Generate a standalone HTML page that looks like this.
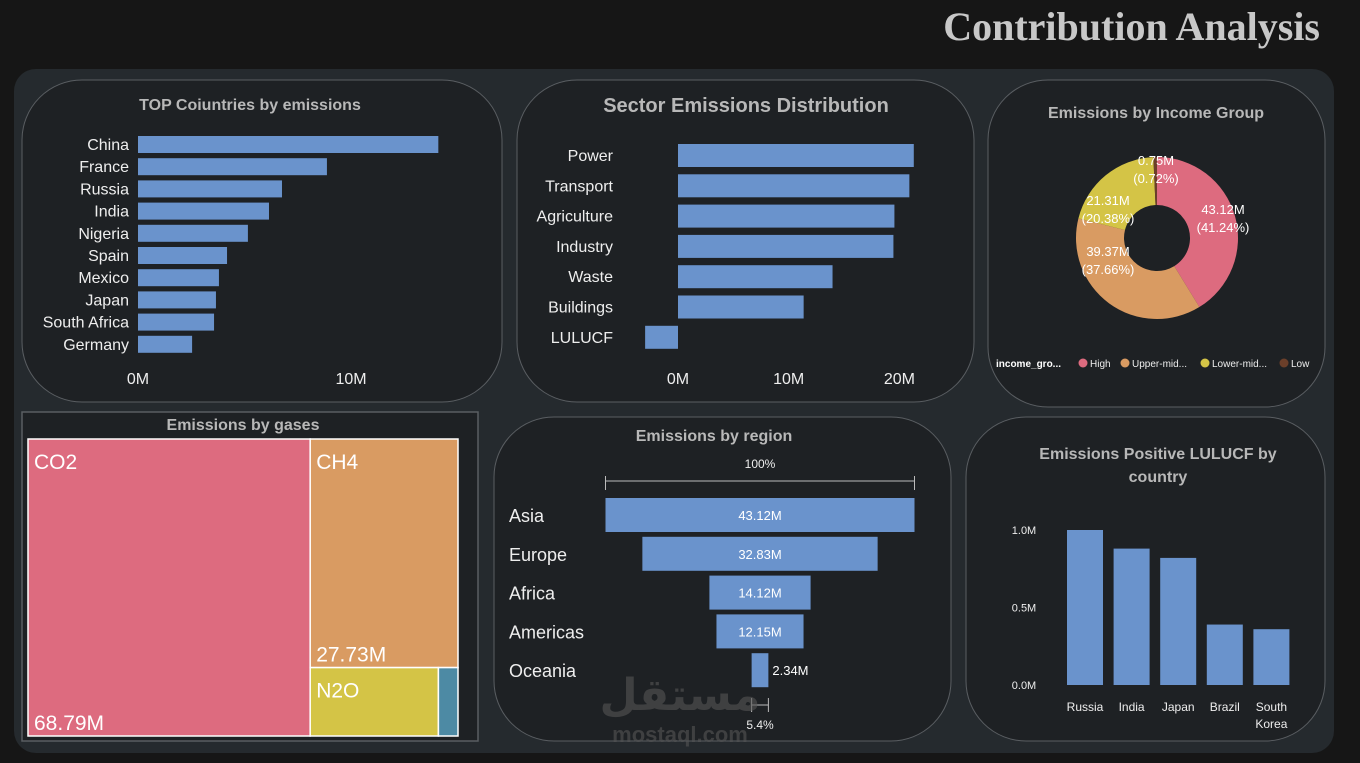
<!DOCTYPE html>
<html><head><meta charset="utf-8"><style>
html,body{margin:0;padding:0;background:#161616;width:1360px;height:763px;overflow:hidden}
svg{display:block}
text{font-family:"Liberation Sans","DejaVu Sans",sans-serif}
</style></head><body>
<svg id="s" width="1360" height="763" xmlns="http://www.w3.org/2000/svg">
<rect x="0" y="0" width="1360" height="763" fill="#161616"/>
<text x="1320" y="40" text-anchor="end" font-weight="bold" font-size="40" fill="#c8c8c8" style="font-family:'Liberation Serif',serif">Contribution Analysis</text>
<rect x="14" y="69" width="1320" height="684" rx="22" fill="#252a2e"/>
<rect x="22" y="80" width="480" height="322" rx="60" fill="#1e2124" stroke="#5a5e62"/>
<rect x="517" y="80" width="457" height="322" rx="60" fill="#1e2124" stroke="#5a5e62"/>
<rect x="988" y="80" width="337" height="327" rx="60" fill="#1e2124" stroke="#5a5e62"/>
<rect x="22" y="412" width="456" height="329" fill="#1e2124" stroke="#5a5e62" stroke-width="1.5"/>
<rect x="494" y="417" width="457" height="324" rx="60" fill="#1e2124" stroke="#5a5e62"/>
<rect x="966" y="417" width="359" height="324" rx="60" fill="#1e2124" stroke="#5a5e62"/>
<text x="250" y="110" text-anchor="middle" font-size="16" fill="#b8b8b8" font-weight="bold">TOP Coiuntries by emissions</text>
<text x="746" y="112" text-anchor="middle" font-size="20" fill="#b8b8b8" font-weight="bold">Sector Emissions Distribution</text>
<text x="1156" y="118" text-anchor="middle" font-size="16" fill="#b8b8b8" font-weight="bold">Emissions by Income Group</text>
<text x="243" y="430" text-anchor="middle" font-size="16" fill="#b8b8b8" font-weight="bold">Emissions by gases</text>
<text x="714" y="441" text-anchor="middle" font-size="16" fill="#b8b8b8" font-weight="bold">Emissions by region</text>
<text x="1158" y="459" text-anchor="middle" font-size="16" fill="#b8b8b8" font-weight="bold">Emissions Positive LULUCF by</text>
<text x="1158" y="482" text-anchor="middle" font-size="16" fill="#b8b8b8" font-weight="bold">country</text>
<g id="g1"></g><g id="g2"></g><g id="g3"></g><g id="g4"></g><g id="g5"></g><g id="g6"></g>
<text x="680" y="710" text-anchor="middle" font-size="44" fill="#555" opacity="0.6" font-weight="bold">مستقل</text>
<text x="680" y="742" text-anchor="middle" font-size="22" fill="#555" opacity="0.6" font-weight="bold">mostaql.com</text>
</svg>
<script>
const countries=["China","France","Russia","India","Nigeria","Spain","Mexico","Japan","South Africa","Germany"];
const countryValues=[14.1,8.87,6.76,6.15,5.16,4.18,3.8,3.66,3.57,2.54];
const countryTicks=[0,10];
const sectors=["Power","Transport","Agriculture","Industry","Waste","Buildings","LULUCF"];
const sectorValues=[21.3,20.9,19.55,19.46,13.96,11.35,-2.97];
const sectorTicks=[0,10,20];
const incomeGroups=["High","Upper-mid...","Lower-mid...","Low"];
const incomeValues=[43.12,39.37,21.31,0.75];
const incomeColors=["#dd6b7f","#d99b62","#d4c446","#6b3f2a"];
const gases=["CO2","CH4","N2O","Other"];
const gasValues=[68.79,27.73,7.2,1.1];
const regions=["Asia","Europe","Africa","Americas","Oceania"];
const regionValues=[43.12,32.83,14.12,12.15,2.34];
const lulucfCountries=["Russia","India","Japan","Brazil","South Korea"];
const lulucfValues=[1.0,0.88,0.82,0.39,0.36];
const lulucfTicks=[0,0.5,1.0];
const NS="http://www.w3.org/2000/svg";
function mk(p,tag,a,txt){const e=document.createElementNS(NS,tag);for(const k in a)e.setAttribute(k,a[k]);if(txt!==undefined)e.textContent=txt;p.appendChild(e);return e;}
const BLUE="#6a93cc";
{const g=document.getElementById('g1');const x=v=>138+v*21.3;const y=i=>136+i*22.2;
countries.forEach((c,i)=>{
const r=mk(g,'rect',{x:x(0),y:y(i),width:x(countryValues[i])-x(0),height:17,fill:BLUE});


const t=mk(g,'text',{x:129,y:y(i)+14,'text-anchor':'end','font-size':16,fill:'#eee'},c);

});
countryTicks.forEach(v=>{const t=mk(g,'text',{x:x(v),y:384,'text-anchor':'middle','font-size':16,fill:'#eee'},v+'M');

});}
{const g=document.getElementById('g2');const x=v=>678+v*11.07;const y=i=>144+i*30.3;
sectors.forEach((c,i)=>{const v=sectorValues[i];
const r=mk(g,'rect',{x:Math.min(x(0),x(v)),y:y(i),width:Math.abs(x(v)-x(0)),height:23,fill:BLUE});


const t=mk(g,'text',{x:613,y:y(i)+17,'text-anchor':'end','font-size':16,fill:'#eee'},c);

});
sectorTicks.forEach(v=>{const t=mk(g,'text',{x:x(v),y:384,'text-anchor':'middle','font-size':16,fill:'#eee'},v+'M');

});}
{const g=document.getElementById('g3');const cx=1157,cy=238,R=81,r0=33;const tot=incomeValues.reduce((a,b)=>a+b,0);
let a=0;const pos=[[1223,214],[1108,256],[1108,205],[1156,165]];
incomeValues.forEach((v,i)=>{const a1=a+v/tot*2*Math.PI;
const P=(ang,rr)=>[cx+rr*Math.sin(ang),cy-rr*Math.cos(ang)];const L=a1-a>Math.PI?1:0;
const[p1,p2,p3,p4]=[P(a,R),P(a1,R),P(a1,r0),P(a,r0)];
const s=mk(g,'path',{d:`M${p1}A${R},${R} 0 ${L} 1 ${p2}L${p3}A${r0},${r0} 0 ${L} 0 ${p4}Z`,fill:incomeColors[i]});


const pct=(v/tot*100).toFixed(2);
const t=mk(g,'text',{x:pos[i][0],y:pos[i][1],'text-anchor':'middle','font-size':13,fill:'#fff'},v.toFixed(2)+'M');


const t2=mk(g,'text',{x:pos[i][0],y:pos[i][1]+18,'text-anchor':'middle','font-size':13,fill:'#fff'},'('+pct+'%)');


a=a1;});
const lt=mk(g,'text',{x:996,y:367,'font-size':10,'font-weight':'bold',fill:'#fff'},'income_gro...');


const lx=[1083,1125,1205,1284];
incomeGroups.forEach((n,i)=>{const c=mk(g,'circle',{cx:lx[i],cy:363,r:4.5,fill:incomeColors[i]});


const t=mk(g,'text',{x:lx[i]+7,y:367,'font-size':10,fill:'#eee'},n);

});}
{const g=document.getElementById('g4');const X0=28,Y0=439,W=430,H=297;const tot=gasValues.reduce((a,b)=>a+b,0);
const w0=W*gasValues[0]/tot;const restW=W-w0;const rest=tot-gasValues[0];
const h1=H*gasValues[1]/rest;const rem=gasValues[2]+gasValues[3];const w2=restW*gasValues[2]/rem;
const rects=[[X0,Y0,w0,H,'#dd6b7f'],[X0+w0,Y0,restW,h1,'#d99b62'],[X0+w0,Y0+h1,w2,H-h1,'#d4c446'],[X0+w0+w2,Y0+h1,restW-w2,H-h1,'#4d8aa4']];
rects.forEach((r,i)=>{const e=mk(g,'rect',{x:r[0],y:r[1],width:r[2],height:r[3],fill:r[4],stroke:'#fff','stroke-width':1.5});

});
[[0,true],[1,true],[2,false]].forEach(([i,val])=>{const r=rects[i];
const t=mk(g,'text',{x:r[0]+6,y:r[1]+30,'font-size':21,fill:'#fff'},gases[i]);


if(val){const v=mk(g,'text',{x:r[0]+6,y:r[1]+r[3]-6,'font-size':21,fill:'#fff'},gasValues[i].toFixed(2)+'M');

}});}
{const g=document.getElementById('g5');const cx=760,full=309,max=regionValues[0];const y=i=>498+i*38.8;
const ax=mk(g,'path',{d:`M${cx-full/2},476V490M${cx-full/2},481H${cx+full/2}M${cx+full/2},476V490`,stroke:'#bbb',fill:'none'});


const tp=mk(g,'text',{x:cx,y:468,'text-anchor':'middle','font-size':12,fill:'#eee'},'100%');


regions.forEach((c,i)=>{const w=full*regionValues[i]/max;
const r=mk(g,'rect',{x:cx-w/2,y:y(i),width:w,height:34,fill:BLUE});


const l=mk(g,'text',{x:509,y:y(i)+24,'font-size':18,fill:'#eee'},c);


const inside=w>50;
const v=mk(g,'text',{x:inside?cx:cx+w/2+4,y:y(i)+22,'text-anchor':inside?'middle':'start','font-size':13,fill:'#fff'},regionValues[i].toFixed(2)+'M');

});
const wl=full*regionValues[4]/max;
const br=mk(g,'path',{d:`M${cx-wl/2},698V712M${cx-wl/2},705H${cx+wl/2}M${cx+wl/2},698V712`,stroke:'#bbb',fill:'none'});


const bp=mk(g,'text',{x:cx,y:729,'text-anchor':'middle','font-size':12,fill:'#eee'},(regionValues[4]/max*100).toFixed(1)+'%');

}
{const g=document.getElementById('g6');const y=v=>685-v*155;const x=i=>1067+i*46.6;
lulucfTicks.forEach(v=>{const t=mk(g,'text',{x:1024,y:y(v)+4,'text-anchor':'middle','font-size':11,fill:'#eee'},v.toFixed(1)+'M');

});
lulucfCountries.forEach((c,i)=>{const r=mk(g,'rect',{x:x(i),y:y(lulucfValues[i]),width:36,height:y(0)-y(lulucfValues[i]),fill:BLUE});


const parts=c.split(' ');parts.forEach((p,j)=>{const t=mk(g,'text',{x:x(i)+18,y:711+j*17,'text-anchor':'middle','font-size':12,fill:'#eee'},p);

});});}
</script>
</body></html>
